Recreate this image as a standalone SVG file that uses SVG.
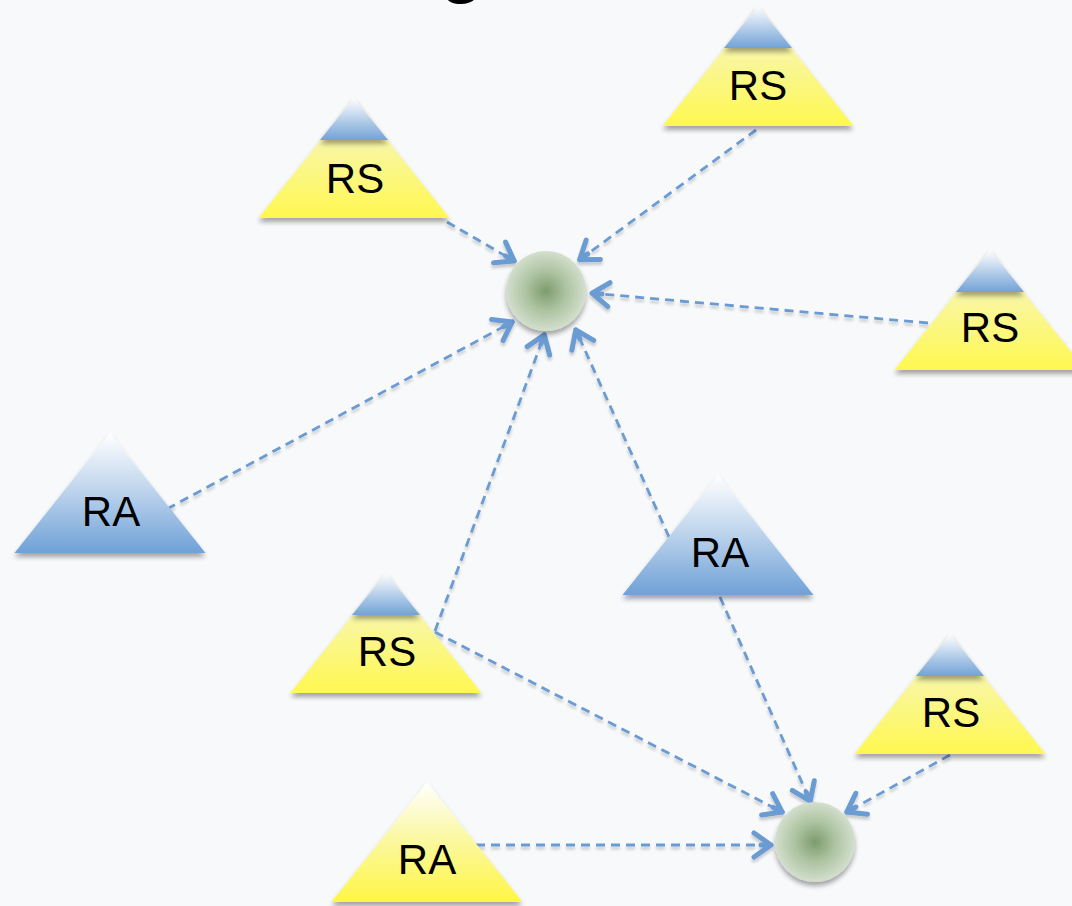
<svg xmlns="http://www.w3.org/2000/svg" width="1072" height="906" viewBox="0 0 1072 906">
  <defs>
    <style>
      .lbl { font-family: "Liberation Sans", Arial, sans-serif; font-size: 42px; fill: #000; text-anchor: middle; }
      .title { font-family: "Liberation Sans", Arial, sans-serif; font-size: 72px; font-weight: bold; fill: #000; text-anchor: middle; }
      .link { fill: none; stroke: #6b9bd3; stroke-width: 2.8; stroke-dasharray: 9 6; marker-end: url(#chev); }
      .hub { fill: url(#hubFill); filter: url(#soft); }
    </style>
    <linearGradient id="capFill" x1="0" y1="0" x2="0" y2="1">
      <stop offset="0" stop-color="#ffffff"/>
      <stop offset="1" stop-color="#72a2d7"/>
    </linearGradient>
    <linearGradient id="rsBody" x1="0" y1="0" x2="0" y2="1">
      <stop offset="0.35" stop-color="#f8f6a8"/>
      <stop offset="1" stop-color="#fff850"/>
    </linearGradient>
    <linearGradient id="raBlue" x1="0" y1="0" x2="0" y2="1">
      <stop offset="0" stop-color="#ffffff"/>
      <stop offset="0.45" stop-color="#c2d7ee"/>
      <stop offset="1" stop-color="#6fa1d7"/>
    </linearGradient>
    <linearGradient id="raYellow" x1="0" y1="0" x2="0" y2="1">
      <stop offset="0" stop-color="#ffffff"/>
      <stop offset="0.45" stop-color="#fbf8a6"/>
      <stop offset="1" stop-color="#fff645"/>
    </linearGradient>
    <radialGradient id="hubFill" cx="0.5" cy="0.5" r="0.5">
      <stop offset="0" stop-color="#7e9b6e"/>
      <stop offset="0.5" stop-color="#adc3a1"/>
      <stop offset="1" stop-color="#d3dfcd"/>
    </radialGradient>
    <filter id="soft" x="-20%" y="-20%" width="140%" height="150%">
      <feGaussianBlur in="SourceAlpha" stdDeviation="2.5"/>
      <feOffset dy="3.5" result="b"/>
      <feComponentTransfer><feFuncA type="linear" slope="0.35"/></feComponentTransfer>
      <feMerge><feMergeNode/><feMergeNode in="SourceGraphic"/></feMerge>
    </filter>
    <filter id="lineShadow" x="-10%" y="-10%" width="120%" height="120%">
      <feGaussianBlur in="SourceAlpha" stdDeviation="1.5"/>
      <feOffset dy="3"/>
      <feComponentTransfer><feFuncA type="linear" slope="0.2"/></feComponentTransfer>
      <feMerge><feMergeNode/><feMergeNode in="SourceGraphic"/></feMerge>
    </filter>
    <marker id="chev" viewBox="-24 -16 28 32" refX="0" refY="0" markerWidth="28" markerHeight="32" markerUnits="userSpaceOnUse" orient="auto">
      <path d="M-19 -12 L-2 0 L-19 12 M-2 0 L-12 0" fill="none" stroke="#6b9bd3" stroke-width="5" stroke-linecap="round" stroke-linejoin="round"/>
    </marker>
    <!-- shared triangle outlines, drawn relative to the apex -->
    <path id="tri" d="M0 0 L95.5 120 L-95.5 120 Z"/>
    <path id="cap" d="M0 0 L34 42 L-34 42 Z"/>
  </defs>

  <rect width="1072" height="906" fill="#f8f9fb"/>

  <!-- heading, mostly above the visible area -->
  <text class="title" x="462" y="-11">g</text>

  <!-- connectors -->
  <g id="connectors" filter="url(#lineShadow)">
    <path class="link" d="M447 222 L516 262"/>
    <path class="link" d="M756 130 L578 261"/>
    <path class="link" d="M928 323 L590 293"/>
    <path class="link" d="M167 509 L514 321"/>
    <path class="link" d="M435 631 L545 333"/>
    <path class="link" d="M669 537 L575 328"/>
    <path class="link" d="M435 632 L784 813"/>
    <path class="link" d="M720 597 L811 803"/>
    <path class="link" d="M950 755 L845 813"/>
    <path class="link" d="M476 845 L773 845"/>
  </g>

  <!-- hubs -->
  <g id="hub-upper"><circle class="hub" cx="546" cy="291" r="40"/></g>
  <g id="hub-lower"><circle class="hub" cx="815" cy="842" r="40"/></g>

  <!-- RS nodes: yellow body with blue cap -->
  <g id="rs-top-left" transform="translate(354 98)">
    <use href="#tri" fill="url(#rsBody)" filter="url(#soft)"/>
    <use href="#cap" fill="url(#capFill)" filter="url(#soft)"/>
    <text class="lbl" x="1" y="95">RS</text>
  </g>
  <g id="rs-top-right" transform="translate(758 6)">
    <use href="#tri" fill="url(#rsBody)" filter="url(#soft)"/>
    <use href="#cap" fill="url(#capFill)" filter="url(#soft)"/>
    <text class="lbl" x="0" y="94">RS</text>
  </g>
  <g id="rs-right" transform="translate(990 250)">
    <use href="#tri" fill="url(#rsBody)" filter="url(#soft)"/>
    <use href="#cap" fill="url(#capFill)" filter="url(#soft)"/>
    <text class="lbl" x="0" y="92">RS</text>
  </g>
  <g id="rs-middle" transform="translate(386 573)">
    <use href="#tri" fill="url(#rsBody)" filter="url(#soft)"/>
    <use href="#cap" fill="url(#capFill)" filter="url(#soft)"/>
    <text class="lbl" x="1" y="93">RS</text>
  </g>
  <g id="rs-bottom-right" transform="translate(950 634)">
    <use href="#tri" fill="url(#rsBody)" filter="url(#soft)"/>
    <use href="#cap" fill="url(#capFill)" filter="url(#soft)"/>
    <text class="lbl" x="1" y="93">RS</text>
  </g>

  <!-- RA nodes -->
  <g id="ra-left" transform="translate(110 433)">
    <use href="#tri" fill="url(#raBlue)" filter="url(#soft)"/>
    <text class="lbl" x="1" y="93">RA</text>
  </g>
  <g id="ra-middle" transform="translate(718 475)">
    <use href="#tri" fill="url(#raBlue)" filter="url(#soft)"/>
    <text class="lbl" x="2" y="92">RA</text>
  </g>
  <g id="ra-bottom" transform="translate(427 782)">
    <use href="#tri" fill="url(#raYellow)" filter="url(#soft)"/>
    <text class="lbl" x="0" y="92">RA</text>
  </g>
</svg>
